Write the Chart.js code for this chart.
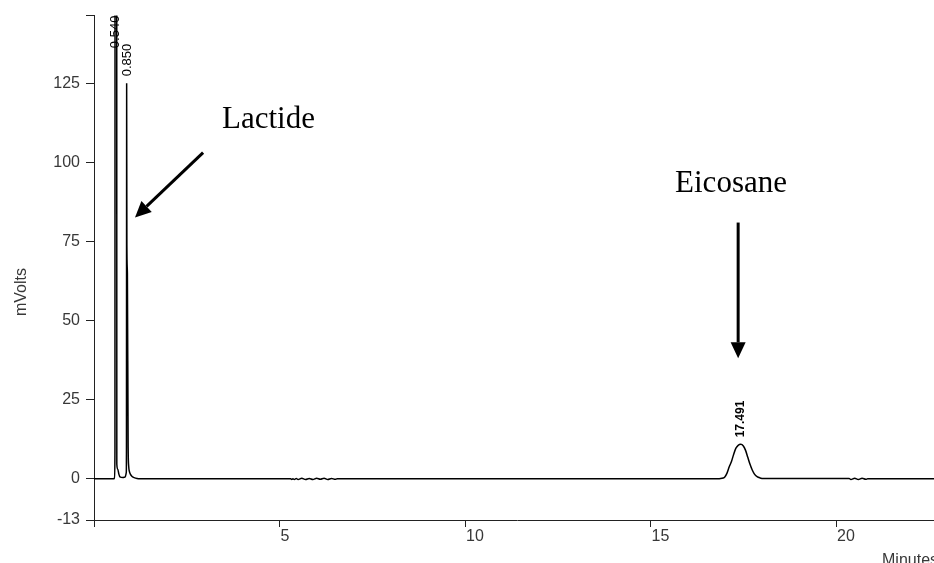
<!DOCTYPE html>
<html><head><meta charset="utf-8">
<script src="https://cdn.jsdelivr.net/npm/chart.js@4.4.0/dist/chart.umd.min.js"></script>
<style>
html,body{margin:0;padding:0;overflow:hidden;background:#fff;width:934px;height:563px}
#wrap{position:absolute;left:0;top:0;width:960px;height:563px}
</style>
</head><body><div id="wrap"><canvas id="c" width="960" height="563"></canvas></div>
<script>
// ---- data ----
const timeMin = [
  0, 0.54, 0.555, 0.565, 0.57, 0.61, 0.615, 0.64, 0.67, 0.70, 0.78, 0.84,
  0.87, 0.875, 0.88, 0.886, 0.90, 0.92, 0.935, 0.95, 0.98, 1.02, 1.08, 1.16, 1.24,
  5.30, 5.33, 5.36, 5.40, 5.45, 5.50, 5.60, 5.70, 5.80, 5.90, 6.00, 6.10, 6.20, 6.30, 6.40, 6.50, 6.55,
  16.70, 16.96, 17.00, 17.06, 17.12, 17.18, 17.24, 17.30, 17.36, 17.43, 17.50, 17.56, 17.62, 17.68,
  17.74, 17.80, 17.87, 17.95, 18.04, 18.20,
  20.35, 20.40, 20.50, 20.60, 20.70, 20.80, 20.85, 22.8
];
const signalMV = [
  0, 0, 0.5, 9.4, 400, 400, 4.6, 3, 1.5, 0.6, 0.4, 0.6,
  2, 10, 125, 74, 65, 10, 4, 2.5, 1.5, 0.8, 0.4, 0.1, 0,
  0, -0.2, 0, -0.2, 0.15, -0.2, 0.2, -0.2, 0.15, -0.2, 0.2, -0.15, 0.2, -0.2, 0.15, -0.15, 0,
  0, 0.3, 0.6, 1.8, 3.8, 5.5, 7.8, 9.7, 10.6, 10.9, 10.4, 9.0, 6.8, 4.6,
  2.8, 1.5, 0.7, 0.3, 0.1, 0.1,
  0.1, -0.2, 0.2, -0.2, 0.2, -0.15, 0, 0
];
const xTicks = [0, 5, 10, 15, 20];
const xTickLabels = ['', '5', '10', '15', '20'];
const yTicks = [-13, 0, 25, 50, 75, 100, 125, 146.4];
const yTickLabels = ['-13', '0', '25', '50', '75', '100', '125', ''];
const peakLabels = ['0.540', '0.850', '17.491'];
const peakTimes = [0.59, 0.89, 17.43];
const peakHeights = [400, 125, 10.9];
const annotLabels = ['Lactide', 'Eicosane'];
const X_MIN = 0, X_MAX = 22.8, Y_MIN = -13, Y_MAX = 146.4;

const AX = '#222', TXT = '#383838';
const tickFont = {family: "'Liberation Sans', Arial, sans-serif", size: 16};

const overlay = {
  id: 'overlay',
  afterDraw(chart) {
    const ctx = chart.ctx, xs = chart.scales.x, ys = chart.scales.y, ca = chart.chartArea;
    const px = v => xs.getPixelForValue(v), py = v => ys.getPixelForValue(v);
    ctx.save();
    ctx.fillStyle = TXT;
    ctx.font = "16px 'Liberation Sans', Arial, sans-serif";
    // x tick labels, left-aligned at their tick
    ctx.textAlign = 'left'; ctx.textBaseline = 'top';
    xTicks.forEach((v, i) => { if (xTickLabels[i]) ctx.fillText(xTickLabels[i], px(v) + 1, ca.bottom + 9); });
    // axis titles
    ctx.save();
    ctx.translate(25.5, 292);
    ctx.rotate(-Math.PI / 2);
    ctx.textAlign = 'center'; ctx.textBaseline = 'alphabetic';
    ctx.fillText('mVolts', 0, 0);
    ctx.restore();
    ctx.textAlign = 'left'; ctx.textBaseline = 'alphabetic';
    ctx.fillText('Minutes', 882, 565);

    // peak labels (rotated)
    ctx.fillStyle = '#000';
    peakLabels.forEach((lab, i) => {
      const x = px(peakTimes[i]);
      ctx.font = (i === 2 ? 'bold 12px' : '13px') + " 'Liberation Sans', Arial, sans-serif";
      const w = ctx.measureText(lab).width;
      const yb = peakHeights[i] > Y_MAX ? ca.top + w : py(peakHeights[i]) - 7;
      ctx.save();
      ctx.translate(x, yb);
      ctx.rotate(-Math.PI / 2);
      ctx.textAlign = 'left'; ctx.textBaseline = 'middle';
      ctx.fillText(lab, 0, 0);
      ctx.restore();
    });

    // annotation texts
    ctx.font = "31px 'Liberation Serif', 'Times New Roman', serif";
    ctx.textAlign = 'left'; ctx.textBaseline = 'alphabetic';
    ctx.fillText(annotLabels[0], px(3.45), py(110.9));
    ctx.fillText(annotLabels[1], px(15.66), py(90.6));

    // arrows
    function arrow(x1, y1, x2, y2) {
      const a = Math.atan2(y2 - y1, x2 - x1), L = 16, H = 7.5;
      const bx = x2 - L * Math.cos(a), by = y2 - L * Math.sin(a);
      ctx.strokeStyle = '#000'; ctx.lineWidth = 3;
      ctx.beginPath(); ctx.moveTo(x1, y1); ctx.lineTo(bx, by); ctx.stroke();
      ctx.beginPath();
      ctx.moveTo(x2, y2);
      ctx.lineTo(bx + H * Math.sin(a), by - H * Math.cos(a));
      ctx.lineTo(bx - H * Math.sin(a), by + H * Math.cos(a));
      ctx.closePath(); ctx.fill();
    }
    arrow(px(2.94), py(103.1), px(1.105), py(82.6));
    arrow(px(17.36), py(81.0), px(17.36), py(38.1));
    ctx.restore();
  }
};

new Chart(document.getElementById('c'), {
  type: 'line',
  data: {
    datasets: [{
      data: timeMin.map((t, i) => ({x: t, y: signalMV[i]})),
      borderColor: '#000', borderWidth: 1.5, pointRadius: 0,
      cubicInterpolationMode: 'monotone', fill: false
    }]
  },
  options: {
    responsive: false, animation: false,
    layout: {padding: {top: 15, right: 20, left: 0, bottom: 0}},
    plugins: {legend: {display: false}, tooltip: {enabled: false}},
    scales: {
      x: {
        type: 'linear', min: X_MIN, max: X_MAX,
        afterBuildTicks: s => { s.ticks = xTicks.map(v => ({value: v})); },
        afterFit: s => { s.height = 43; },
        ticks: {callback: () => '', padding: 0, maxRotation: 0, autoSkip: false, font: tickFont},
        grid: {drawOnChartArea: false, drawTicks: true, tickLength: 7, color: AX, lineWidth: 1},
        border: {display: true, color: AX, width: 1}
      },
      y: {
        type: 'linear', min: Y_MIN, max: Y_MAX,
        afterBuildTicks: s => { s.ticks = yTicks.map(v => ({value: v})); },
        afterFit: s => { s.width = 94; },
        ticks: {
          callback: v => yTickLabels[yTicks.indexOf(v)],
          padding: 6, autoSkip: false, font: tickFont, color: TXT
        },
        grid: {drawOnChartArea: false, drawTicks: true, tickLength: 8, color: AX, lineWidth: 1},
        border: {display: true, color: AX, width: 1}
      }
    }
  },
  plugins: [overlay]
});
</script>
</body></html>
